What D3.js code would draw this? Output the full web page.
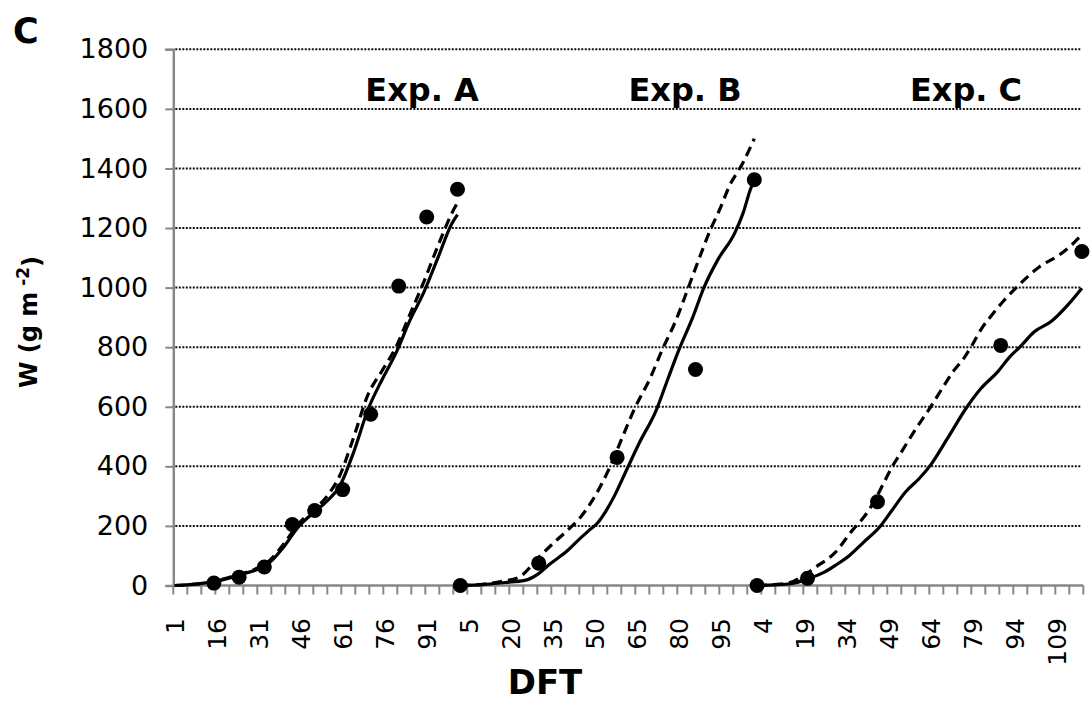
<!DOCTYPE html>
<html lang="en">
<head>
    <meta charset="UTF-8">
    <title>W vs DFT - Exp. A, B, C</title>
    <script src="https://d3js.org/d3.v7.min.js"></script>
    <style>
        body { margin: 0; background: #fff; }
        text { font-family: "DejaVu Sans", Verdana, sans-serif; fill: #000; }
    </style>
</head>
<body>
    <svg id="chart" width="1091" height="707"></svg>

    <script>
        // category axis: each experiment keeps its own day numbering
        const expA_days = d3.range(1, 103);   // 1..102
        const expB_days = d3.range(2, 108);   // 2..107
        const expC_days = d3.range(2, 119);   // 2..118
        const expNames = ["Exp. A", "Exp. B", "Exp. C"];

        const yTicks = [0, 200, 400, 600, 800, 1000, 1200, 1400, 1600, 1800];

        // simulated (solid) curves, [day, W]
        const solidA = [[1,0],[5,2],[10,6],[15,13],[20,24],[25,38],[30,52],[35,78],[40,130],[45,195],[50,240],[55,280],[60,335],[65,450],[70,590],[75,690],[80,780],[85,890],[90,985],[95,1100],[100,1215],[102,1245]];
        const solidB = [[2,0],[10,3],[18,10],[25,17],[30,40],[34,72],[40,115],[45,160],[48,185],[51,210],[54,250],[57,300],[61,380],[66,480],[72,589],[76,690],[80,789],[85,900],[89,1000],[94,1094],[100,1183],[103,1250],[106,1339],[107,1356]];
        const solidC = [[2,0],[8,2],[14,6],[20,22],[26,45],[30,68],[35,101],[40,145],[46,199],[50,250],[55,314],[60,360],[64,405],[70,494],[77,600],[82,662],[88,718],[92,765],[96,802],[101,852],[107,886],[113,942],[118,998]];

        // simulated (dashed) curves, [day, W]
        const dashA = [[1,0],[5,2],[10,6],[15,14],[20,26],[25,40],[30,56],[35,85],[40,140],[45,205],[50,250],[55,295],[60,370],[65,500],[70,640],[75,720],[80,800],[85,910],[90,1020],[95,1140],[100,1250],[102,1285]];
        const dashB = [[2,0],[10,4],[17,14],[23,28],[30,94],[35,140],[40,183],[45,230],[49,283],[55,389],[60,500],[64,589],[70,700],[74,789],[79,890],[83,989],[87,1090],[91,1187],[95,1270],[98,1339],[103,1420],[107,1500]];
        const dashC = [[2,0],[8,3],[14,11],[18,30],[23,62],[30,112],[36,185],[40,228],[44,285],[47,340],[50,395],[54,455],[58,516],[64,600],[68,660],[72,718],[76,765],[79,810],[82,860],[86,910],[90,955],[95,1004],[103,1071],[110,1110],[114,1140],[118,1178]];

        // observed points, [day, W]
        const obsA = [[15,8],[24,28],[33,62],[43,205],[51,252],[61,322],[71,575],[81,1005],[91,1237],[102,1330]];
        const obsB = [[2,0],[30,75],[58,430],[86,725],[107,1362]];
        const obsC = [[2,0],[20,24],[45,281],[89,806],[118,1121]];

        const dayLists = [expA_days, expB_days, expC_days];
        const categories = [];
        dayLists.forEach(function(days, e) {
            days.forEach(function(d) { categories.push({ key: e + "-" + d, day: d }); });
        });

        const plotLeft = 173.3, plotRight = 1083.3, plotTop = 49.3, plotBottom = 585.5;

        const svg = d3.select("#chart");

        const x = d3.scaleBand()
                    .domain(categories.map(function(c) { return c.key; }))
                    .range([plotLeft, plotRight])
                    .paddingInner(0)
                    .paddingOuter(0);

        const y = d3.scaleLinear()
                    .domain([0, 1800])
                    .range([plotBottom, plotTop]);

        const cx = function(e, d) { return x(e + "-" + d) + x.bandwidth() / 2; };

        // gridlines
        svg.append("g")
            .selectAll("line")
            .data(yTicks.filter(function(t) { return t > 0; }))
            .enter().append("line")
            .attr("x1", plotLeft + 2)
            .attr("x2", plotRight - 3)
            .attr("y1", function(d) { return y(d); })
            .attr("y2", function(d) { return y(d); })
            .attr("stroke", "#111")
            .attr("stroke-width", 2)
            .attr("stroke-dasharray", "2,1.5");

        // y axis
        const yAxis = svg.append("g")
            .attr("transform", "translate(" + plotLeft + ",0)")
            .call(d3.axisLeft(y).tickValues(yTicks).tickFormat(d3.format("d")).tickSize(8).tickPadding(17));
        yAxis.select(".domain").attr("stroke", "#888").attr("stroke-width", 2.5);
        yAxis.selectAll(".tick line").attr("stroke", "#888").attr("stroke-width", 2);
        yAxis.selectAll(".tick text")
            .style("font-size", "27px")
            .style("font-family", "'DejaVu Sans', sans-serif");

        // x axis line + ticks every 5 categories (between categories)
        svg.append("line")
            .attr("x1", plotLeft).attr("x2", plotRight)
            .attr("y1", plotBottom).attr("y2", plotBottom)
            .attr("stroke", "#888").attr("stroke-width", 2.5);

        const tickIdx = d3.range(0, categories.length + 1, 5);
        svg.append("g")
            .selectAll("line")
            .data(tickIdx)
            .enter().append("line")
            .attr("x1", function(i) { return plotLeft + i * x.step(); })
            .attr("x2", function(i) { return plotLeft + i * x.step(); })
            .attr("y1", plotBottom)
            .attr("y2", plotBottom + 9)
            .attr("stroke", "#888")
            .attr("stroke-width", 2);

        svg.append("g")
            .selectAll("text")
            .data(categories.filter(function(c, i) { return i % 15 === 0; }))
            .enter().append("text")
            .attr("transform", function(c) { return "translate(" + (x(c.key) + x.bandwidth() / 2) + ",618) rotate(-90)"; })
            .attr("dy", "0.36em")
            .style("text-anchor", "end")
            .style("font-size", "25px")
            .text(function(c) { return c.day; });

        // curves
        const line = function(e) {
            return d3.line()
                .x(function(p) { return cx(e, p[0]); })
                .y(function(p) { return y(p[1]); })
                .curve(d3.curveMonotoneX);
        };

        [solidA, solidB, solidC].forEach(function(s, e) {
            svg.append("path")
                .attr("d", line(e)(s))
                .attr("fill", "none")
                .attr("stroke", "#000")
                .attr("stroke-width", 3.2);
        });

        [dashA, dashB, dashC].forEach(function(s, e) {
            svg.append("path")
                .attr("d", line(e)(s))
                .attr("fill", "none")
                .attr("stroke", "#000")
                .attr("stroke-width", 3.2)
                .attr("stroke-dasharray", "10,6");
        });

        // observed
        [obsA, obsB, obsC].forEach(function(s, e) {
            svg.append("g")
                .selectAll("circle")
                .data(s)
                .enter().append("circle")
                .attr("cx", function(p) { return cx(e, p[0]); })
                .attr("cy", function(p) { return y(p[1]); })
                .attr("r", 7.5)
                .attr("fill", "#000");
        });

        // experiment titles
        const titleX = [422, 685, 966];
        expNames.forEach(function(n, e) {
            svg.append("text")
                .attr("x", titleX[e])
                .attr("y", 101)
                .style("text-anchor", "middle")
                .style("font-size", "32px")
                .style("font-weight", "bold")
                .text(n);
        });

        // panel letter
        svg.append("text")
            .attr("x", 13)
            .attr("y", 43)
            .style("font-size", "35px")
            .style("font-weight", "bold")
            .text("C");

        // axis titles
        svg.append("text")
            .attr("x", 545)
            .attr("y", 694)
            .style("text-anchor", "middle")
            .style("font-size", "34px")
            .style("font-weight", "bold")
            .text("DFT");

        const yl = svg.append("text")
            .attr("transform", "translate(37,322) rotate(-90)")
            .style("text-anchor", "middle")
            .style("font-size", "24px")
            .style("font-weight", "bold");
        yl.append("tspan").text("W (g m");
        yl.append("tspan").attr("dy", "-0.45em").style("font-size", "17px").text(" -2");
        yl.append("tspan").attr("dy", "0.45em").text(")");
    </script>
</body>
</html>
